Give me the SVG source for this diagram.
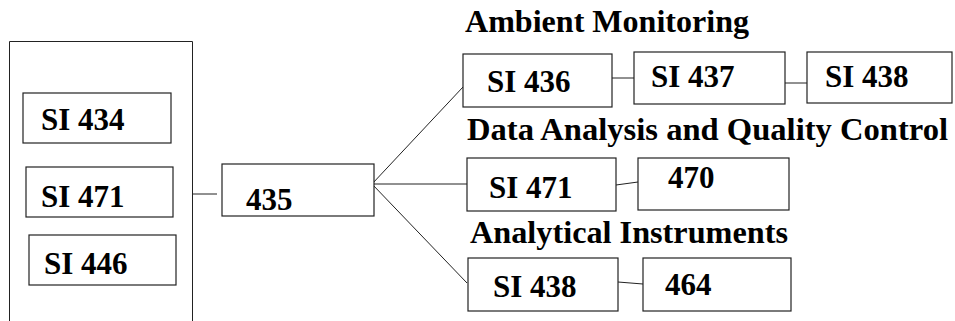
<svg xmlns="http://www.w3.org/2000/svg" width="955" height="321" viewBox="0 0 955 321">
<style>
.box{fill:#fff;stroke:#222;stroke-width:1.2}
text{font-family:'Liberation Serif','Times New Roman','DejaVu Serif',serif;font-weight:bold;fill:#000}
.lbl{font-size:31px}
.hdr{font-size:32px}
.ln{stroke:#222;stroke-width:1;fill:none}
</style>
<rect width="955" height="321" fill="#fff"/>
<g id="group-left">
<path class="ln" d="M9.5,321 V41.5 H192.5 V321" stroke-width="1.2"/>
</g>
<g id="connectors">
<line class="ln" x1="192" y1="194" x2="217" y2="194"/>
<line class="ln" x1="372" y1="184" x2="463" y2="87"/>
<line class="ln" x1="372" y1="184" x2="467" y2="184"/>
<line class="ln" x1="372" y1="184" x2="467" y2="283"/>
<line class="ln" x1="612" y1="78" x2="634" y2="78"/>
<line class="ln" x1="785" y1="83" x2="807" y2="83"/>
<line class="ln" x1="616" y1="185" x2="638" y2="182"/>
<line class="ln" x1="618" y1="282" x2="643" y2="284"/>
</g>
<g id="n-si434"><rect class="box" x="23" y="93" width="148" height="50"/><text class="lbl" x="41" y="130" font-family="Liberation Serif, serif">SI 434</text></g>
<g id="n-si471-left"><rect class="box" x="26" y="167" width="147" height="50"/><text class="lbl" x="41" y="207" font-family="Liberation Serif, serif">SI 471</text></g>
<g id="n-si446"><rect class="box" x="29" y="235" width="147" height="50"/><text class="lbl" x="44" y="274" font-family="Liberation Serif, serif">SI 446</text></g>
<g id="n-435"><rect class="box" x="222" y="164" width="152" height="52"/><text class="lbl" x="246" y="210" font-family="Liberation Serif, serif">435</text></g>
<g id="h-ambient"><text class="hdr" x="465" y="32" textLength="284" lengthAdjust="spacingAndGlyphs" font-family="Liberation Serif, serif">Ambient Monitoring</text></g>
<g id="n-si436"><rect class="box" x="463" y="54" width="149" height="53"/><text class="lbl" x="487" y="92" font-family="Liberation Serif, serif">SI 436</text></g>
<g id="n-si437"><rect class="box" x="634" y="52" width="151" height="52"/><text class="lbl" x="651" y="87" font-family="Liberation Serif, serif">SI 437</text></g>
<g id="n-si438-top"><rect class="box" x="807" y="52" width="145" height="51"/><text class="lbl" x="825" y="87" font-family="Liberation Serif, serif">SI 438</text></g>
<g id="h-data"><text class="hdr" x="467" y="140" textLength="481" lengthAdjust="spacingAndGlyphs" font-family="Liberation Serif, serif">Data Analysis and Quality Control</text></g>
<g id="n-si471"><rect class="box" x="467" y="158" width="149" height="53"/><text class="lbl" x="489" y="198" font-family="Liberation Serif, serif">SI 471</text></g>
<g id="n-470"><rect class="box" x="638" y="158" width="151" height="52"/><text class="lbl" x="668" y="188" font-family="Liberation Serif, serif">470</text></g>
<g id="h-analytical"><text class="hdr" x="470" y="243" textLength="318" lengthAdjust="spacingAndGlyphs" font-family="Liberation Serif, serif">Analytical Instruments</text></g>
<g id="n-si438"><rect class="box" x="468" y="258" width="150" height="53"/><text class="lbl" x="493" y="297" font-family="Liberation Serif, serif">SI 438</text></g>
<g id="n-464"><rect class="box" x="643" y="258" width="148" height="53"/><text class="lbl" x="665" y="295" font-family="Liberation Serif, serif">464</text></g>
</svg>
